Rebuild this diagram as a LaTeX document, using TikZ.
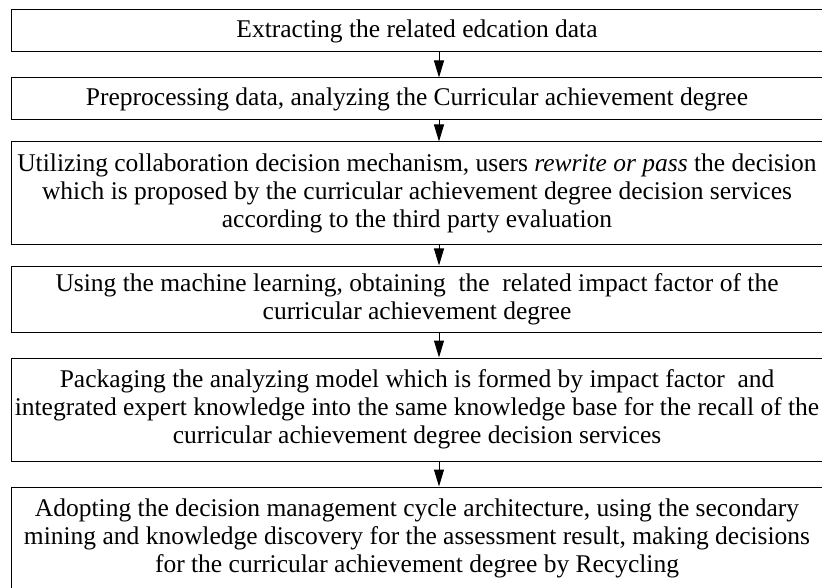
\documentclass[tikz,border=0pt]{standalone}
\usepackage{fontspec}
\setmainfont{Liberation Serif}
\usetikzlibrary{arrows.meta,positioning}
\tikzset{
  stagebox/.style={draw=black,line width=1pt,rectangle,minimum width=812pt,
    align=center,inner sep=0pt,font=\fontsize{25.5}{28}\selectfont},
  flowarrow/.style={line width=1pt,-{Triangle[length=17pt,width=10pt]}}
}

\begin{document}
\begin{tikzpicture}[x=1pt,y=-1pt]
  % Page frame (the lower and right edges of the boxes run off the page)
  \useasboundingbox (0,0) rectangle (822,588);
  \clip (0,0) rectangle (822,588);
  % Process stages
  \node[stagebox,minimum height=42pt] (s1) at (417,31)
    {Extracting the related edcation data};
  \node[stagebox,minimum height=42pt] (s2) at (417,99)
    {Preprocessing data, analyzing the Curricular achievement degree};
  \node[stagebox,minimum height=103pt] (s3) at (417,193.5)
    {Utilizing collaboration decision mechanism, users \textit{rewrite or pass} the decision\\
     which is proposed by the curricular achievement degree decision services\\
     according to the third party evaluation};
  \node[stagebox,minimum height=66pt] (s4) at (417,299)
    {Using the machine learning, obtaining~ the~ related impact factor of the\\
     curricular achievement degree};
  \node[stagebox,minimum height=103pt] (s5) at (417,409.5)
    {Packaging the analyzing model which is formed by impact factor~ and\\
     integrated expert knowledge into the same knowledge base for the recall of the\\
     curricular achievement degree decision services};
  \node[stagebox,minimum height=103pt] (s6) at (417,538.5)
    {Adopting the decision management cycle architecture, using the secondary\\
     mining and knowledge discovery for the assessment result, making decisions\\
     for the curricular achievement degree by Recycling};
  % Arrows between stages
  \coordinate (ax) at (439,0);
  \foreach \a/\b in {s1/s2,s2/s3,s3/s4,s4/s5,s5/s6}
    \draw[flowarrow] (\a.south -| ax) -- (\b.north -| ax);
\end{tikzpicture}
\end{document}
